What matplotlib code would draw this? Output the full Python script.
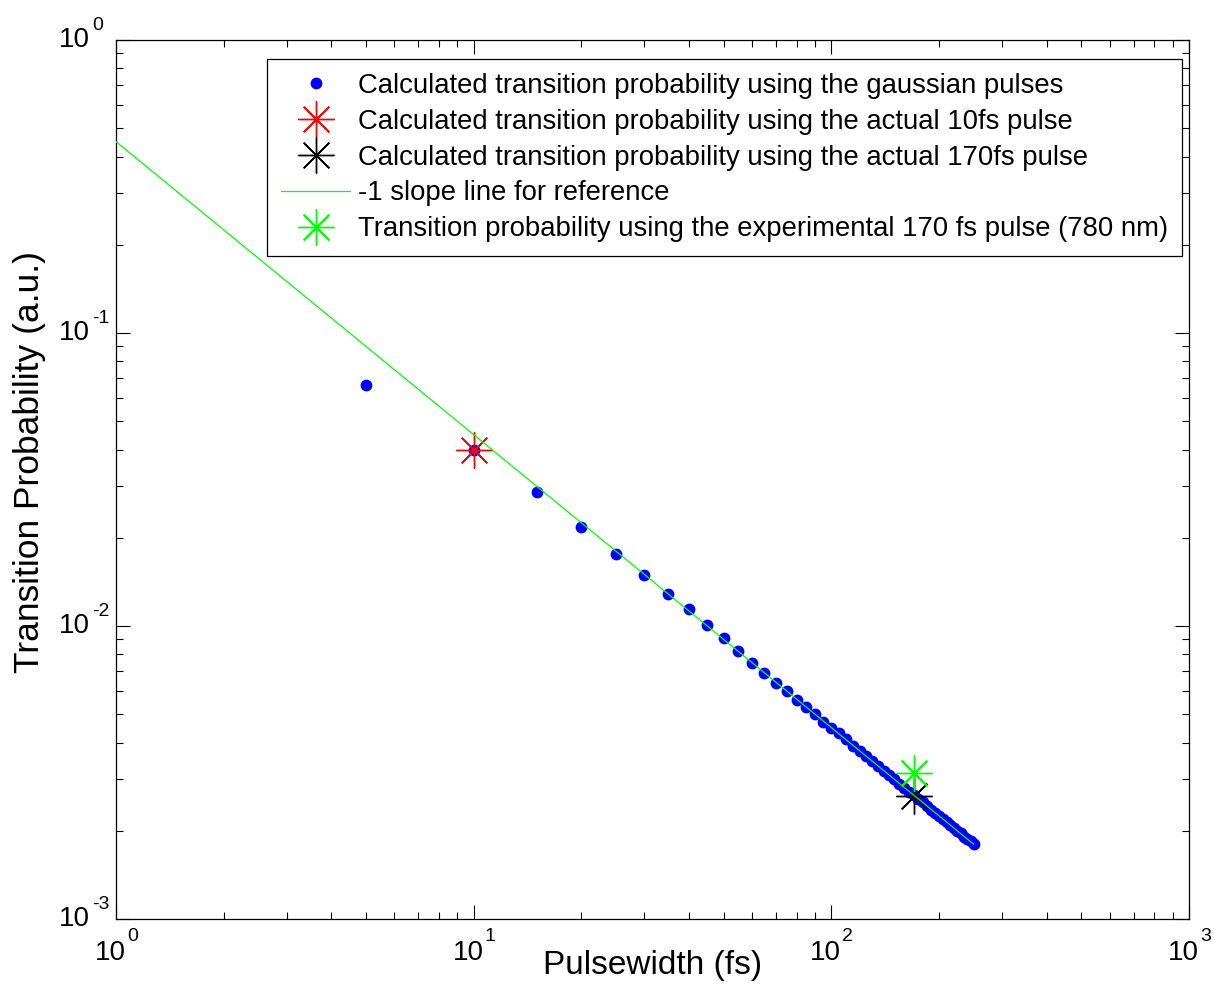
import matplotlib
matplotlib.use("Agg")
import matplotlib.pyplot as plt
import numpy as np
from matplotlib.ticker import LogLocator, NullFormatter
from matplotlib.transforms import offset_copy

plt.rcParams['font.family'] = ['Liberation Sans', 'DejaVu Sans']

# Data
pulse_widths = [5, 10, 15, 20, 25, 30, 35, 40, 45, 50, 55, 60, 65, 70, 75, 80, 85, 90, 95, 100,
                105, 110, 115, 120, 125, 130, 135, 140, 145, 150, 155, 160, 165, 170, 175, 180,
                185, 190, 195, 200, 205, 210, 215, 220, 225, 230, 235, 240, 245, 250]
probabilities = [0.0665, 0.0400, 0.0287, 0.0218, 0.0176, 0.0149, 0.0129, 0.0114, 0.0101, 0.0091,
                 0.0082, 0.0075, 0.0069, 0.0064, 0.0060, 0.0056, 0.0053, 0.0050, 0.0047, 0.0045,
                 0.0043, 0.0041, 0.0039, 0.00375, 0.0036, 0.00346, 0.00333, 0.00321, 0.0031, 0.0030,
                 0.0029, 0.0028, 0.00272, 0.00264, 0.00257, 0.0025, 0.00243, 0.00236, 0.0023, 0.00225,
                 0.0022, 0.00214, 0.00209, 0.00204, 0.0020, 0.00196, 0.00191, 0.00187, 0.00184, 0.0018]
actual10_x = [10]
actual10_y = [0.040]
actual170_x = [170]
actual170_y = [0.00263]
ref_line_x = [1, 250]
ref_line_y = [0.45, 0.0018]
exp170_x = [170]
exp170_y = [0.00315]

x_tick_exps = [0, 1, 2, 3]
y_tick_exps = [-3, -2, -1, 0]

labels = ["Calculated transition probability using the gaussian pulses",
          "Calculated transition probability using the actual 10fs pulse",
          "Calculated transition probability using the actual 170fs pulse",
          "-1 slope line for reference",
          "Transition probability using the experimental 170 fs pulse (780 nm)"]

W, H = 1214, 988
fig = plt.figure(figsize=(W / 100, H / 100), dpi=100)
L, T, R, B = 116, 40, 1189, 919
ax = fig.add_axes([L / W, 1 - B / H, (R - L) / W, (B - T) / H])

star = (8, 2, 0)
ax.plot(pulse_widths, probabilities, 'o', color='#0000ff', markersize=8.5, markeredgewidth=0, label=labels[0], zorder=3)
ax.plot(actual10_x, actual10_y, linestyle='none', marker=star, color='#ff0000', markersize=26, markeredgewidth=1.0, label=labels[1], zorder=4)
ax.plot(actual170_x, actual170_y, linestyle='none', marker=star, color='#000000', markersize=26, markeredgewidth=1.0, label=labels[2], zorder=4)
ax.plot(ref_line_x, ref_line_y, '-', color='#00ff00', linewidth=0.9, label=labels[3], zorder=5)
ax.plot(exp170_x, exp170_y, linestyle='none', marker=star, color='#00ff00', markersize=26, markeredgewidth=1.0, label=labels[4], zorder=4)

ax.set_xscale('log')
ax.set_yscale('log')
ax.set_xlim(1, 1000)
ax.set_ylim(1e-3, 1)

ax.set_xticks([10.0 ** e for e in x_tick_exps])
ax.set_yticks([10.0 ** e for e in y_tick_exps])
ax.xaxis.set_minor_locator(LogLocator(base=10, subs=np.arange(2, 10), numticks=20))
ax.yaxis.set_minor_locator(LogLocator(base=10, subs=np.arange(2, 10), numticks=20))
ax.xaxis.set_major_formatter(NullFormatter())
ax.yaxis.set_major_formatter(NullFormatter())
ax.xaxis.set_minor_formatter(NullFormatter())
ax.yaxis.set_minor_formatter(NullFormatter())

ax.tick_params(which='both', direction='in', top=True, right=True, width=0.8)
ax.tick_params(which='major', length=10)
ax.tick_params(which='minor', length=5)
for s in ax.spines.values():
    s.set_linewidth(0.9)

# MATLAB-style tick labels: "10" with raised exponent
base_fs, exp_fs = 20, 14
xt = ax.get_xaxis_transform()
for e in x_tick_exps:
    v = 10.0 ** e
    ax.text(v, 0, '10', transform=offset_copy(xt, fig, x=10, y=-34, units='dots'),
            ha='right', va='center', fontsize=base_fs, clip_on=False)
    ax.text(v, 0, str(e), transform=offset_copy(xt, fig, x=11, y=-22, units='dots'),
            ha='left', va='baseline', fontsize=exp_fs, clip_on=False)
yt = ax.get_yaxis_transform()
for e in y_tick_exps:
    v = 10.0 ** e
    ax.text(0, v, '10', transform=offset_copy(yt, fig, x=-26, y=0, units='dots'),
            ha='right', va='center', fontsize=base_fs, clip_on=False)
    ax.text(0, v, str(e), transform=offset_copy(yt, fig, x=-24, y=10, units='dots'),
            ha='left', va='baseline', fontsize=exp_fs, clip_on=False)

ax.set_xlabel('Pulsewidth (fs)', fontsize=24)
ax.xaxis.set_label_coords(0.5, -(950 - B) / (B - T))
ax.set_ylabel('Transition Probability (a.u.)', fontsize=25.5)
ax.yaxis.set_label_coords(-(L - 46) / (R - L), (B - 462) / (B - T))

ax_w, ax_h = R - L, B - T
leg = ax.legend(loc='upper right', bbox_to_anchor=((1182 - L) / ax_w, 1 - (59 - T) / ax_h),
                borderaxespad=0, fontsize=19.8, frameon=True, fancybox=False, edgecolor='black',
                framealpha=1, handlelength=2.5, labelspacing=0.36,
                borderpad=0.5, handletextpad=0.3, numpoints=1)
leg.get_frame().set_linewidth(0.9)

fig.savefig('out.png', dpi=100)
